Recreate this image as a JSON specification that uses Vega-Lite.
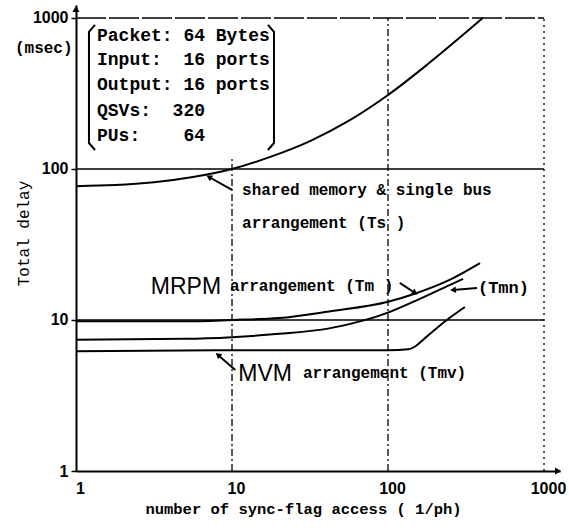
{
  "$schema": "https://vega.github.io/schema/vega-lite/v6.json",
  "width": 484,
  "height": 466,
  "autosize": {"type": "none"},
  "padding": {"left": 76, "top": 5, "right": 9, "bottom": 61},
  "background": "white",
  "config": {"view": {"stroke": null}},
  "datasets": {
    "curves": [
      {"series": "Ts", "x": 1, "y": 76.9}, {"series": "Ts", "x": 1.778, "y": 78.2}, {"series": "Ts", "x": 3.162, "y": 81.7}, {"series": "Ts", "x": 5.623, "y": 88.5}, {"series": "Ts", "x": 10, "y": 100}, {"series": "Ts", "x": 17.78, "y": 120.8}, {"series": "Ts", "x": 31.62, "y": 153.1}, {"series": "Ts", "x": 56.23, "y": 208.9}, {"series": "Ts", "x": 100, "y": 309}, {"series": "Ts", "x": 177.8, "y": 489.8}, {"series": "Ts", "x": 316.2, "y": 803.5}, {"series": "Ts", "x": 404.6, "y": 1000},
      {"series": "Tm", "x": 1, "y": 9.8}, {"series": "Tm", "x": 5, "y": 9.8}, {"series": "Tm", "x": 10, "y": 10}, {"series": "Tm", "x": 20, "y": 10.3}, {"series": "Tm", "x": 42, "y": 11.4}, {"series": "Tm", "x": 100, "y": 13.2}, {"series": "Tm", "x": 153, "y": 15.1}, {"series": "Tm", "x": 250, "y": 18.5}, {"series": "Tm", "x": 389, "y": 23.8},
      {"series": "Tmn", "x": 1, "y": 7.4}, {"series": "Tmn", "x": 5, "y": 7.5}, {"series": "Tmn", "x": 10, "y": 7.7}, {"series": "Tmn", "x": 20, "y": 8.1}, {"series": "Tmn", "x": 42, "y": 8.8}, {"series": "Tmn", "x": 69, "y": 9.9}, {"series": "Tmn", "x": 100, "y": 11.2}, {"series": "Tmn", "x": 150, "y": 13.4}, {"series": "Tmn", "x": 250, "y": 17.1}, {"series": "Tmn", "x": 303, "y": 18.7},
      {"series": "Tmv", "x": 1, "y": 6.2}, {"series": "Tmv", "x": 10, "y": 6.3}, {"series": "Tmv", "x": 50, "y": 6.3}, {"series": "Tmv", "x": 100, "y": 6.3}, {"series": "Tmv", "x": 135, "y": 6.4}, {"series": "Tmv", "x": 150, "y": 6.7}, {"series": "Tmv", "x": 168, "y": 7.4}, {"series": "Tmv", "x": 238, "y": 10}, {"series": "Tmv", "x": 311, "y": 12.2}
    ],
    "grid": [
      {"kind": "h", "x": 1, "x2": 1000, "y": 10, "y2": 10},
      {"kind": "h", "x": 1, "x2": 1000, "y": 100, "y2": 100},
      {"kind": "htop", "x": 1, "x2": 1000, "y": 1000, "y2": 1000},
      {"kind": "vdash", "x": 10, "x2": 10, "y": 1, "y2": 120},
      {"kind": "vdash", "x": 100, "x2": 100, "y": 1, "y2": 1000},
      {"kind": "vdot", "x": 1000, "x2": 1000, "y": 1, "y2": 1000}
    ],
    "box": [
      {"text": "Packet: 64 Bytes", "x": 1.363, "y": 760},
      {"text": "Input:\u00a0\u00a016 ports", "x": 1.363, "y": 527},
      {"text": "Output: 16 ports", "x": 1.363, "y": 360},
      {"text": "QSVs:\u00a0\u00a0320", "x": 1.363, "y": 242},
      {"text": "PUs:\u00a0\u00a0\u00a0\u00a064", "x": 1.363, "y": 165}
    ],
    "brackets": [
      {"b": "L", "i": 1, "x": 1.324, "y": 899}, {"b": "L", "i": 2, "x": 1.211, "y": 808}, {"b": "L", "i": 3, "x": 1.211, "y": 148.6}, {"b": "L", "i": 4, "x": 1.324, "y": 133.6},
      {"b": "R", "i": 1, "x": 17.0, "y": 899}, {"b": "R", "i": 2, "x": 18.58, "y": 808}, {"b": "R", "i": 3, "x": 18.58, "y": 148.6}, {"b": "R", "i": 4, "x": 17.0, "y": 133.6}
    ],
    "labels": [
      {"grp": "mono", "text": "shared memory & single bus", "x": 11.6, "y": 72.6},
      {"grp": "mono", "text": "arrangement (Ts )", "x": 11.6, "y": 43.9},
      {"grp": "mono", "text": "arrangement (Tm )", "x": 9.71, "y": 16.8},
      {"grp": "mono", "text": "arrangement (Tmv)", "x": 28.5, "y": 4.45},
      {"grp": "mono", "text": "(msec)", "x": 0.406, "y": 633},
      {"grp": "mono17", "text": "(Tmn)", "x": 377, "y": 16.3},
      {"grp": "sans", "text": "MRPM", "x": 5.07, "y": 16.5},
      {"grp": "sans", "text": "MVM", "x": 16.3, "y": 4.42}
    ],
    "arrows": [
      {"id": "Ts", "x": 10, "y": 72.6, "x2": 7.12, "y2": 88.5},
      {"id": "Tm", "x": 119, "y": 17.6, "x2": 149, "y2": 15.1},
      {"id": "Tmn", "x": 372, "y": 16.3, "x2": 261, "y2": 15.8},
      {"id": "Tmv", "x": 10.5, "y": 4.67, "x2": 8.13, "y2": 5.87}
    ],
    "axisEnds": [
      {"id": "up", "x": 1, "y": 1150},
      {"id": "right", "x": 1230, "y": 1}
    ]
  },
  "encoding": {
    "x": {
      "field": "x", "type": "quantitative",
      "scale": {"type": "log", "domain": [1, 1266], "nice": false},
      "axis": {
        "title": "number of sync-flag access ( 1/ph)",
        "values": [1, 10, 100, 1000], "format": "d",
        "grid": false, "ticks": false,
        "domainColor": "black", "domainWidth": 2,
        "labelFont": "Liberation Sans", "labelFontWeight": "bold", "labelFontSize": 16, "labelColor": "black",
        "labelPadding": 9, "labelFlush": false, "labelOffset": 4,
        "titleFont": "Liberation Mono", "titleFontWeight": "bold", "titleFontSize": 15.5, "titleColor": "black",
        "titleX": 227, "titleY": 37, "titleAlign": "center", "titleBaseline": "middle"
      }
    },
    "y": {
      "field": "y", "type": "quantitative",
      "scale": {"type": "log", "domain": [1, 1219], "nice": false},
      "axis": {
        "title": "Total delay",
        "values": [1, 10, 100, 1000], "format": "d",
        "grid": false, "ticks": true, "tickSize": 5, "tickColor": "black", "tickWidth": 1.5,
        "domainColor": "black", "domainWidth": 2,
        "labelFont": "Liberation Sans", "labelFontWeight": "bold", "labelFontSize": 16, "labelColor": "black",
        "labelPadding": 3, "labelFlush": false,
        "titleFont": "Liberation Mono", "titleFontWeight": "normal", "titleFontSize": 16, "titleColor": "black",
        "titleAngle": -90, "titleX": -53, "titleY": 228, "titleAlign": "center", "titleBaseline": "middle"
      }
    }
  },
  "layer": [
    {
      "data": {"name": "grid"},
      "transform": [{"filter": "datum.kind === 'h'"}],
      "mark": {"type": "rule", "color": "black", "strokeWidth": 1.3},
      "encoding": {"x2": {"field": "x2"}, "y2": {"field": "y2"}}
    },
    {
      "data": {"name": "grid"},
      "transform": [{"filter": "datum.kind === 'htop'"}],
      "mark": {"type": "rule", "color": "black", "strokeWidth": 1.3, "strokeDash": [30, 3]},
      "encoding": {"x2": {"field": "x2"}, "y2": {"field": "y2"}}
    },
    {
      "data": {"name": "grid"},
      "transform": [{"filter": "datum.kind === 'vdash'"}],
      "mark": {"type": "rule", "color": "black", "strokeWidth": 1.3, "strokeDash": [7, 3, 2, 3]},
      "encoding": {"x2": {"field": "x2"}, "y2": {"field": "y2"}}
    },
    {
      "data": {"name": "grid"},
      "transform": [{"filter": "datum.kind === 'vdot'"}],
      "mark": {"type": "rule", "color": "black", "strokeWidth": 1.3, "strokeDash": [2, 4]},
      "encoding": {"x2": {"field": "x2"}, "y2": {"field": "y2"}}
    },
    {
      "data": {"name": "curves"},
      "mark": {"type": "line", "color": "black", "strokeWidth": 2, "interpolate": "monotone"},
      "encoding": {"detail": {"field": "series"}}
    },
    {
      "data": {"name": "brackets"},
      "mark": {"type": "line", "color": "black", "strokeWidth": 2},
      "encoding": {"detail": {"field": "b"}, "order": {"field": "i", "type": "quantitative"}}
    },
    {
      "data": {"name": "box"},
      "mark": {"type": "text", "align": "left", "baseline": "middle", "font": "Liberation Mono", "fontWeight": "bold", "fontSize": 18, "color": "black"},
      "encoding": {"text": {"field": "text"}}
    },
    {
      "data": {"name": "labels"},
      "transform": [{"filter": "datum.grp === 'mono'"}],
      "mark": {"type": "text", "align": "left", "baseline": "middle", "font": "Liberation Mono", "fontWeight": "bold", "fontSize": 16, "color": "black"},
      "encoding": {"text": {"field": "text"}}
    },
    {
      "data": {"name": "labels"},
      "transform": [{"filter": "datum.grp === 'mono17'"}],
      "mark": {"type": "text", "align": "left", "baseline": "middle", "font": "Liberation Mono", "fontWeight": "bold", "fontSize": 17, "color": "black"},
      "encoding": {"text": {"field": "text"}}
    },
    {
      "data": {"name": "labels"},
      "transform": [{"filter": "datum.grp === 'sans'"}],
      "mark": {"type": "text", "align": "center", "baseline": "middle", "font": "Liberation Sans", "fontWeight": "normal", "fontSize": 23, "color": "black"},
      "encoding": {"text": {"field": "text"}}
    },
    {
      "data": {"name": "arrows"},
      "mark": {"type": "rule", "color": "black", "strokeWidth": 2},
      "encoding": {"x2": {"field": "x2"}, "y2": {"field": "y2"}}
    },
    {
      "data": {"name": "arrows"},
      "transform": [{"filter": "datum.id === 'Ts'"}],
      "mark": {"type": "point", "shape": "triangle-up", "filled": true, "size": 45, "angle": 300, "color": "black", "opacity": 1},
      "encoding": {"x": {"field": "x2", "type": "quantitative"}, "y": {"field": "y2", "type": "quantitative"}}
    },
    {
      "data": {"name": "arrows"},
      "transform": [{"filter": "datum.id === 'Tm'"}],
      "mark": {"type": "point", "shape": "triangle-up", "filled": true, "size": 45, "angle": 124, "color": "black", "opacity": 1},
      "encoding": {"x": {"field": "x2", "type": "quantitative"}, "y": {"field": "y2", "type": "quantitative"}}
    },
    {
      "data": {"name": "arrows"},
      "transform": [{"filter": "datum.id === 'Tmn'"}],
      "mark": {"type": "point", "shape": "triangle-up", "filled": true, "size": 45, "angle": 265, "color": "black", "opacity": 1},
      "encoding": {"x": {"field": "x2", "type": "quantitative"}, "y": {"field": "y2", "type": "quantitative"}}
    },
    {
      "data": {"name": "arrows"},
      "transform": [{"filter": "datum.id === 'Tmv'"}],
      "mark": {"type": "point", "shape": "triangle-up", "filled": true, "size": 45, "angle": 309, "color": "black", "opacity": 1},
      "encoding": {"x": {"field": "x2", "type": "quantitative"}, "y": {"field": "y2", "type": "quantitative"}}
    },
    {
      "data": {"name": "axisEnds"},
      "transform": [{"filter": "datum.id === 'up'"}],
      "mark": {"type": "point", "shape": "triangle-up", "filled": true, "size": 50, "color": "black", "opacity": 1}
    },
    {
      "data": {"name": "axisEnds"},
      "transform": [{"filter": "datum.id === 'right'"}],
      "mark": {"type": "point", "shape": "triangle-right", "filled": true, "size": 50, "color": "black", "opacity": 1}
    }
  ]
}
